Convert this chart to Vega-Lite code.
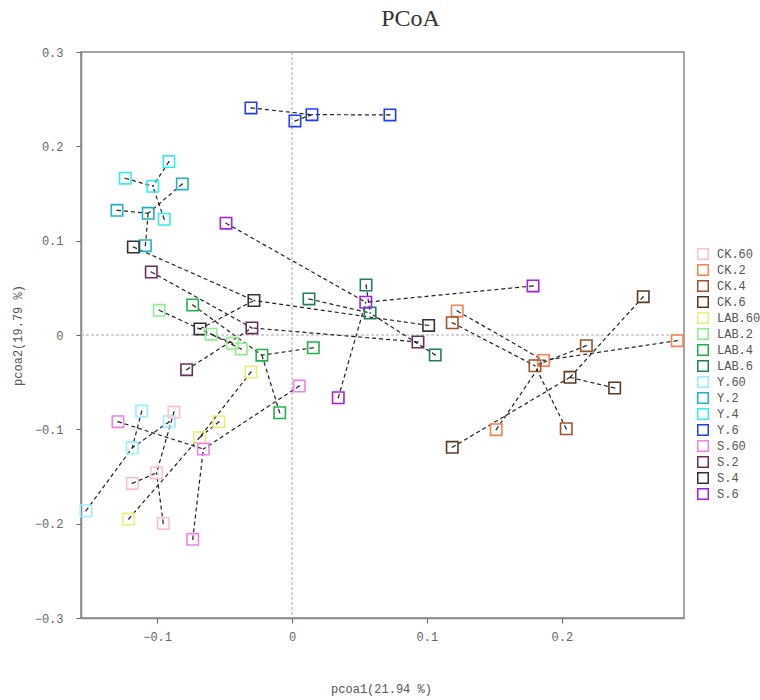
{
  "$schema": "https://vega.github.io/schema/vega-lite/v6.json",
  "width": 603,
  "height": 566,
  "autosize": {"type": "none"},
  "padding": {"left": 81, "top": 52, "right": 76, "bottom": 82},
  "background": "white",
  "title": {"text": "PCoA", "font": "Liberation Serif", "fontSize": 24, "fontWeight": "normal", "color": "#333", "anchor": "middle", "dx": 28, "offset": 15},
  "config": {
    "view": {"stroke": "#888", "strokeWidth": 1.5},
    "axis": {"grid": false, "domainColor": "#888", "domainWidth": 1.5, "tickColor": "#666", "tickSize": 5, "labelFont": "Liberation Mono", "labelFontSize": 12, "labelColor": "#666", "titleFont": "Liberation Mono", "titleFontSize": 12, "titleFontWeight": "normal", "titleColor": "#555"},
    "legend": {"labelFont": "Liberation Mono", "labelFontSize": 12, "labelColor": "#555"}
  },
  "datasets": {
    "pts": [
      {"group": "Y.6", "role": "sample", "x": -0.0304, "y": 0.2407, "cx": 0.0148, "cy": 0.2336},
      {"group": "Y.6", "role": "sample", "x": 0.0022, "y": 0.2269, "cx": 0.0148, "cy": 0.2336},
      {"group": "Y.6", "role": "sample", "x": 0.0726, "y": 0.2333, "cx": 0.0148, "cy": 0.2336},
      {"group": "Y.6", "role": "centroid", "x": 0.0148, "y": 0.2336, "cx": 0.0148, "cy": 0.2336},
      {"group": "Y.4", "role": "sample", "x": -0.0912, "y": 0.1838, "cx": -0.1032, "cy": 0.1576},
      {"group": "Y.4", "role": "sample", "x": -0.1236, "y": 0.1662, "cx": -0.1032, "cy": 0.1576},
      {"group": "Y.4", "role": "sample", "x": -0.0947, "y": 0.1227, "cx": -0.1032, "cy": 0.1576},
      {"group": "Y.4", "role": "centroid", "x": -0.1032, "y": 0.1576, "cx": -0.1032, "cy": 0.1576},
      {"group": "Y.2", "role": "sample", "x": -0.0813, "y": 0.1601, "cx": -0.1066, "cy": 0.129},
      {"group": "Y.2", "role": "sample", "x": -0.1297, "y": 0.1322, "cx": -0.1066, "cy": 0.129},
      {"group": "Y.2", "role": "sample", "x": -0.1087, "y": 0.0947, "cx": -0.1066, "cy": 0.129},
      {"group": "Y.2", "role": "centroid", "x": -0.1066, "y": 0.129, "cx": -0.1066, "cy": 0.129},
      {"group": "S.4", "role": "sample", "x": -0.1176, "y": 0.0933, "cx": -0.0282, "cy": 0.0366},
      {"group": "S.4", "role": "sample", "x": -0.0682, "y": 0.0064, "cx": -0.0282, "cy": 0.0366},
      {"group": "S.4", "role": "sample", "x": 0.1013, "y": 0.0101, "cx": -0.0282, "cy": 0.0366},
      {"group": "S.4", "role": "centroid", "x": -0.0282, "y": 0.0366, "cx": -0.0282, "cy": 0.0366},
      {"group": "S.2", "role": "sample", "x": -0.1043, "y": 0.0668, "cx": -0.0297, "cy": 0.0075},
      {"group": "S.2", "role": "sample", "x": -0.0781, "y": -0.0368, "cx": -0.0297, "cy": 0.0075},
      {"group": "S.2", "role": "sample", "x": 0.0934, "y": -0.0074, "cx": -0.0297, "cy": 0.0075},
      {"group": "S.2", "role": "centroid", "x": -0.0297, "y": 0.0075, "cx": -0.0297, "cy": 0.0075},
      {"group": "LAB.2", "role": "sample", "x": -0.0984, "y": 0.0262, "cx": -0.06, "cy": 0.0009},
      {"group": "LAB.2", "role": "sample", "x": -0.044, "y": -0.0088, "cx": -0.06, "cy": 0.0009},
      {"group": "LAB.2", "role": "sample", "x": -0.0376, "y": -0.0148, "cx": -0.06, "cy": 0.0009},
      {"group": "LAB.2", "role": "centroid", "x": -0.06, "y": 0.0009, "cx": -0.06, "cy": 0.0009},
      {"group": "LAB.4", "role": "sample", "x": -0.0736, "y": 0.0318, "cx": -0.0223, "cy": -0.0214},
      {"group": "LAB.4", "role": "sample", "x": 0.0158, "y": -0.0135, "cx": -0.0223, "cy": -0.0214},
      {"group": "LAB.4", "role": "sample", "x": -0.0091, "y": -0.0824, "cx": -0.0223, "cy": -0.0214},
      {"group": "LAB.4", "role": "centroid", "x": -0.0223, "y": -0.0214, "cx": -0.0223, "cy": -0.0214},
      {"group": "LAB.60", "role": "sample", "x": -0.0304, "y": -0.0392, "cx": -0.0685, "cy": -0.1087},
      {"group": "LAB.60", "role": "sample", "x": -0.0541, "y": -0.0919, "cx": -0.0685, "cy": -0.1087},
      {"group": "LAB.60", "role": "sample", "x": -0.1211, "y": -0.1951, "cx": -0.0685, "cy": -0.1087},
      {"group": "LAB.60", "role": "centroid", "x": -0.0685, "y": -0.1087, "cx": -0.0685, "cy": -0.1087},
      {"group": "S.60", "role": "sample", "x": -0.129, "y": -0.0919, "cx": -0.0657, "cy": -0.1209},
      {"group": "S.60", "role": "sample", "x": -0.0736, "y": -0.2166, "cx": -0.0657, "cy": -0.1209},
      {"group": "S.60", "role": "sample", "x": 0.0054, "y": -0.0541, "cx": -0.0657, "cy": -0.1209},
      {"group": "S.60", "role": "centroid", "x": -0.0657, "y": -0.1209, "cx": -0.0657, "cy": -0.1209},
      {"group": "Y.60", "role": "sample", "x": -0.1114, "y": -0.0806, "cx": -0.1184, "cy": -0.1196},
      {"group": "Y.60", "role": "sample", "x": -0.091, "y": -0.0919, "cx": -0.1184, "cy": -0.1196},
      {"group": "Y.60", "role": "sample", "x": -0.1527, "y": -0.1863, "cx": -0.1184, "cy": -0.1196},
      {"group": "Y.60", "role": "centroid", "x": -0.1184, "y": -0.1196, "cx": -0.1184, "cy": -0.1196},
      {"group": "CK.60", "role": "sample", "x": -0.0875, "y": -0.0817, "cx": -0.1004, "cy": -0.1462},
      {"group": "CK.60", "role": "sample", "x": -0.1184, "y": -0.1573, "cx": -0.1004, "cy": -0.1462},
      {"group": "CK.60", "role": "sample", "x": -0.0954, "y": -0.1997, "cx": -0.1004, "cy": -0.1462},
      {"group": "CK.60", "role": "centroid", "x": -0.1004, "y": -0.1462, "cx": -0.1004, "cy": -0.1462},
      {"group": "LAB.6", "role": "sample", "x": 0.0549, "y": 0.053, "cx": 0.0579, "cy": 0.0233},
      {"group": "LAB.6", "role": "sample", "x": 0.0126, "y": 0.0382, "cx": 0.0579, "cy": 0.0233},
      {"group": "LAB.6", "role": "sample", "x": 0.1062, "y": -0.0212, "cx": 0.0579, "cy": 0.0233},
      {"group": "LAB.6", "role": "centroid", "x": 0.0579, "y": 0.0233, "cx": 0.0579, "cy": 0.0233},
      {"group": "S.6", "role": "sample", "x": -0.0489, "y": 0.1185, "cx": 0.0547, "cy": 0.0347},
      {"group": "S.6", "role": "sample", "x": 0.0343, "y": -0.0665, "cx": 0.0547, "cy": 0.0347},
      {"group": "S.6", "role": "sample", "x": 0.1787, "y": 0.052, "cx": 0.0547, "cy": 0.0347},
      {"group": "S.6", "role": "centroid", "x": 0.0547, "y": 0.0347, "cx": 0.0547, "cy": 0.0347},
      {"group": "CK.2", "role": "sample", "x": 0.1225, "y": 0.0255, "cx": 0.1865, "cy": -0.027},
      {"group": "CK.2", "role": "sample", "x": 0.2856, "y": -0.006, "cx": 0.1865, "cy": -0.027},
      {"group": "CK.2", "role": "sample", "x": 0.1514, "y": -0.1004, "cx": 0.1865, "cy": -0.027},
      {"group": "CK.2", "role": "centroid", "x": 0.1865, "y": -0.027, "cx": 0.1865, "cy": -0.027},
      {"group": "CK.4", "role": "sample", "x": 0.1188, "y": 0.013, "cx": 0.1801, "cy": -0.0326},
      {"group": "CK.4", "role": "sample", "x": 0.2182, "y": -0.0113, "cx": 0.1801, "cy": -0.0326},
      {"group": "CK.4", "role": "sample", "x": 0.2033, "y": -0.0994, "cx": 0.1801, "cy": -0.0326},
      {"group": "CK.4", "role": "centroid", "x": 0.1801, "y": -0.0326, "cx": 0.1801, "cy": -0.0326},
      {"group": "CK.6", "role": "sample", "x": 0.2604, "y": 0.0406, "cx": 0.2061, "cy": -0.0449},
      {"group": "CK.6", "role": "sample", "x": 0.2392, "y": -0.0562, "cx": 0.2061, "cy": -0.0449},
      {"group": "CK.6", "role": "sample", "x": 0.1188, "y": -0.1191, "cx": 0.2061, "cy": -0.0449},
      {"group": "CK.6", "role": "centroid", "x": 0.2061, "y": -0.0449, "cx": 0.2061, "cy": -0.0449}
    ]
  },
  "layer": [
    {
      "data": {"values": [{"v": 0}]},
      "mark": {"type": "rule", "color": "#aaa", "strokeDash": [3, 2], "strokeWidth": 1},
      "encoding": {"x": {"field": "v", "type": "quantitative"}}
    },
    {
      "data": {"values": [{"v": 0}]},
      "mark": {"type": "rule", "color": "#aaa", "strokeDash": [3, 2], "strokeWidth": 1},
      "encoding": {"y": {"field": "v", "type": "quantitative"}}
    },
    {
      "data": {"name": "pts"},
      "transform": [{"filter": "datum.role == 'sample'"}],
      "mark": {"type": "rule", "color": "#222", "strokeDash": [4, 3], "strokeWidth": 1.2},
      "encoding": {
        "x": {"field": "x", "type": "quantitative"},
        "y": {"field": "y", "type": "quantitative"},
        "x2": {"field": "cx"},
        "y2": {"field": "cy"}
      }
    },
    {
      "data": {"name": "pts"},
      "mark": {"type": "point", "shape": "square", "filled": false, "size": 130, "strokeWidth": 1.6, "opacity": 1},
      "encoding": {
        "x": {"field": "x", "type": "quantitative", "scale": {"domain": [-0.1564, 0.2906], "nice": false, "zero": false},
          "axis": {"values": [-0.1, 0, 0.1, 0.2], "format": ".1~f", "title": "pcoa1(21.94 %)", "titleX": 300, "titleY": 65, "labelPadding": 8}},
        "y": {"field": "y", "type": "quantitative", "scale": {"domain": [-0.3, 0.3], "nice": false, "zero": false},
          "axis": {"values": [-0.3, -0.2, -0.1, 0, 0.1, 0.2, 0.3], "format": ".1~f", "title": "pcoa2(19.79 %)", "titleX": -57, "titleY": 283, "labelPadding": 13}},
        "color": {"field": "group", "type": "nominal",
          "scale": {"domain": ["CK.60", "CK.2", "CK.4", "CK.6", "LAB.60", "LAB.2", "LAB.4", "LAB.6", "Y.60", "Y.2", "Y.4", "Y.6", "S.60", "S.2", "S.4", "S.6"],
            "range": ["#FFC0CB", "#FF7F50", "#A0522D", "#5C3A21", "#EEEE77", "#90EE90", "#22B14C", "#1F8060", "#99EEFF", "#20B2CC", "#33EEEE", "#1E3CFF", "#EE82EE", "#6B2C5F", "#333333", "#A020F0"]},
          "legend": {"title": null, "orient": "none", "legendX": 616, "legendY": 195, "symbolType": "square", "symbolSize": 110, "symbolStrokeWidth": 1.5, "symbolFillColor": "transparent", "rowPadding": 2, "clipHeight": 14, "labelOffset": 8}}
      }
    },
    {
      "data": {"name": "pts"},
      "mark": {"type": "point", "shape": "square", "filled": true, "size": 2, "color": "#333"},
      "encoding": {
        "x": {"field": "x", "type": "quantitative"},
        "y": {"field": "y", "type": "quantitative"}
      }
    }
  ]
}
